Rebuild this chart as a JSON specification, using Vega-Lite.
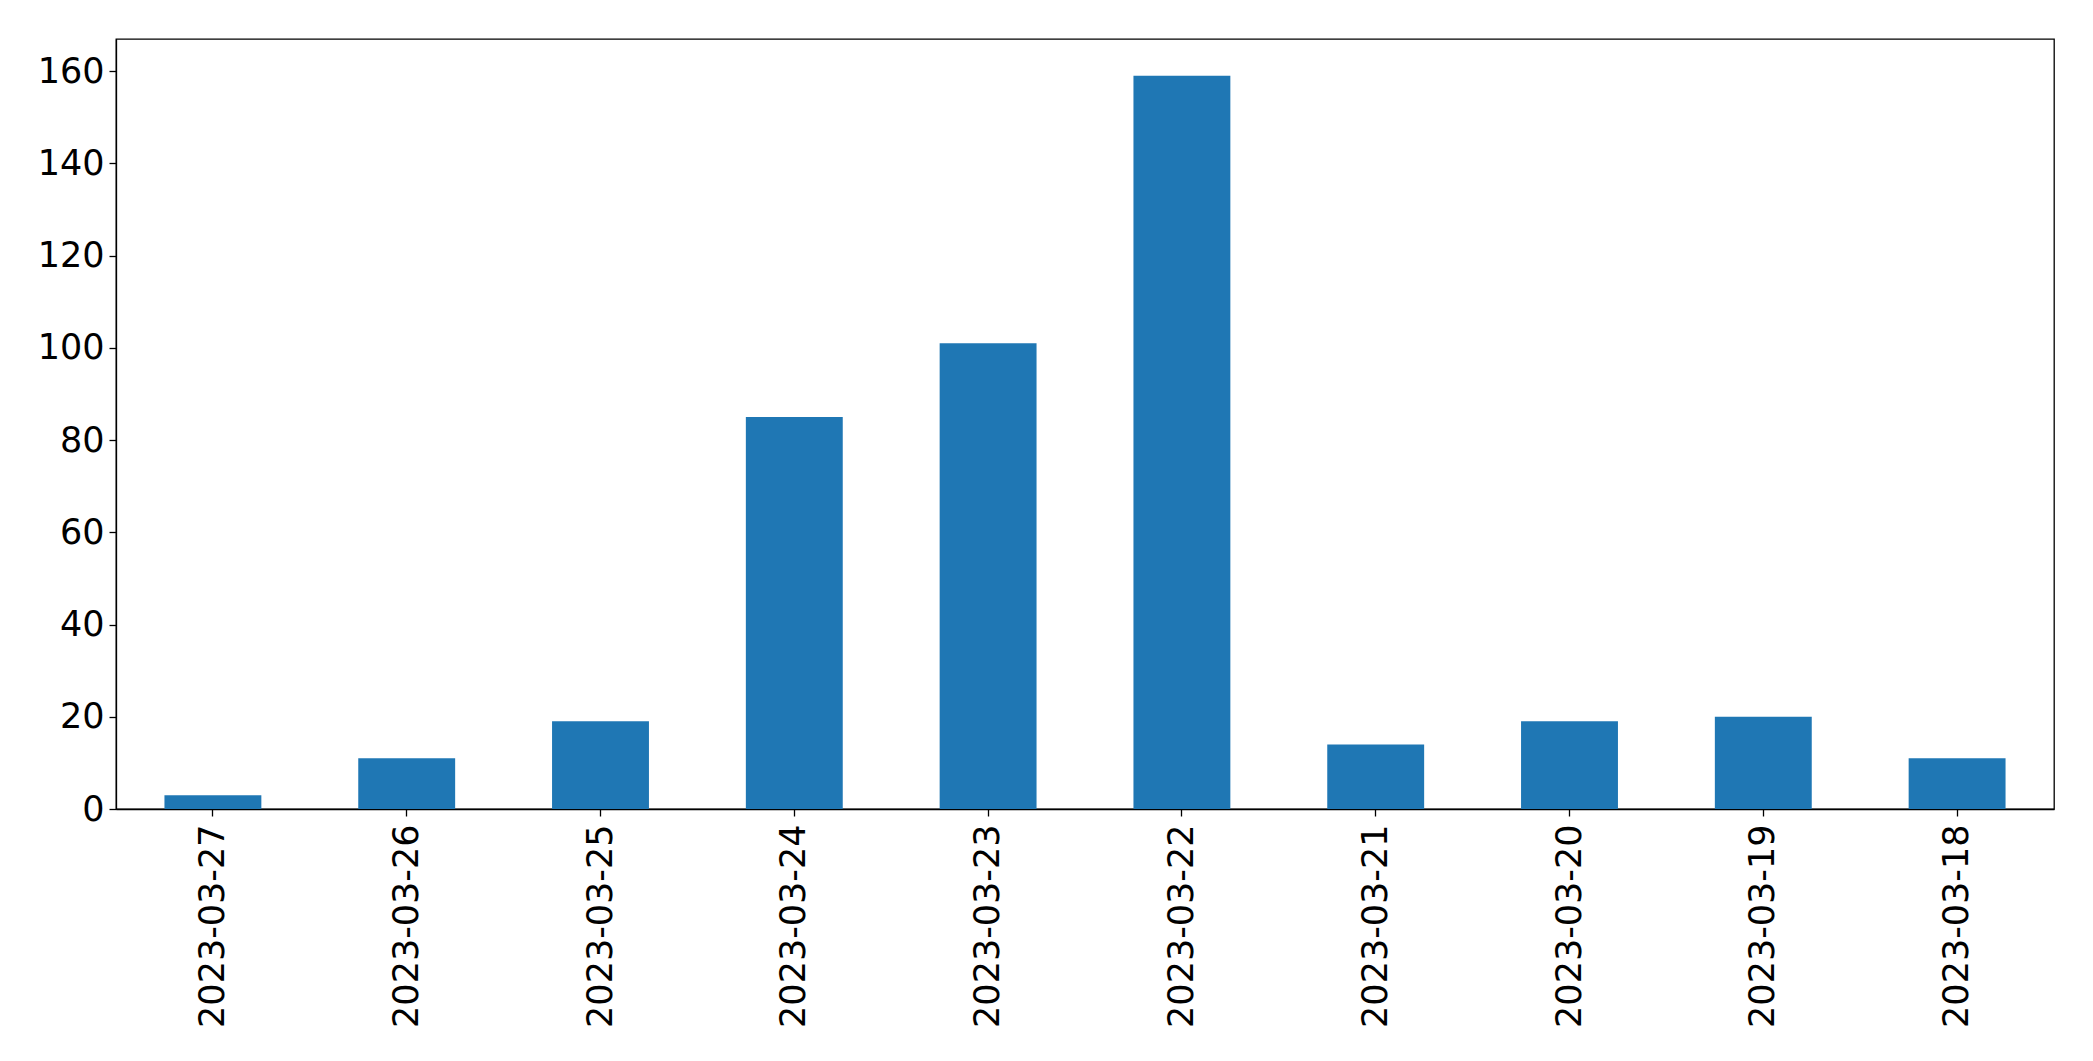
{
  "$schema": "https://vega.github.io/schema/vega-lite/v6.json",
  "autosize": {"type": "none"},
  "padding": {"left": 116, "top": 39, "right": 39, "bottom": 252},
  "width": 1938,
  "height": 770,
  "background": "white",
  "config": {
    "view": {"stroke": "#000", "strokeWidth": 1.3},
    "font": "DejaVu Sans",
    "axis": {
      "labelFont": "DejaVu Sans",
      "labelFontSize": 35,
      "labelColor": "#000",
      "labelLimit": 0,
      "tickColor": "#000",
      "domainColor": "#000",
      "tickSize": 7,
      "tickWidth": 1.3,
      "domainWidth": 1.3,
      "grid": false,
      "title": null
    }
  },
  "data": {
    "values": [
      {"date": "2023-03-27", "count": 3},
      {"date": "2023-03-26", "count": 11},
      {"date": "2023-03-25", "count": 19},
      {"date": "2023-03-24", "count": 85},
      {"date": "2023-03-23", "count": 101},
      {"date": "2023-03-22", "count": 159},
      {"date": "2023-03-21", "count": 14},
      {"date": "2023-03-20", "count": 19},
      {"date": "2023-03-19", "count": 20},
      {"date": "2023-03-18", "count": 11}
    ]
  },
  "mark": {"type": "bar", "color": "#1f77b4"},
  "encoding": {
    "x": {
      "field": "date",
      "type": "nominal",
      "sort": null,
      "scale": {"paddingInner": 0.5, "paddingOuter": 0.25},
      "axis": {"labelAngle": -90, "labelPadding": 8}
    },
    "y": {
      "field": "count",
      "type": "quantitative",
      "scale": {"domain": [0, 166.95], "nice": false},
      "axis": {"values": [0, 20, 40, 60, 80, 100, 120, 140, 160], "labelPadding": 5}
    }
  }
}
